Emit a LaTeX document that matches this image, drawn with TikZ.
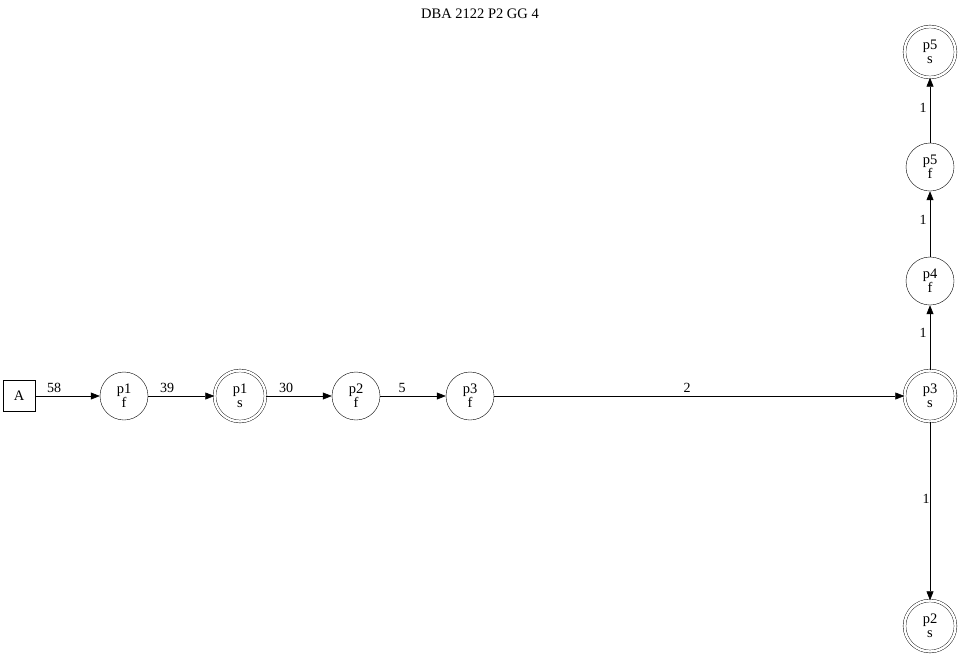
\documentclass[tikz,border=0pt]{standalone}
\usepackage{fontspec}
\setmainfont{Liberation Serif}
\usetikzlibrary{arrows.meta}
\begin{document}
\begin{tikzpicture}[x=1pt,y=-1pt,
  every node/.style={font=\fontsize{14.5}{14}\selectfont},
  st/.style={circle,draw,minimum size=48pt,inner sep=0pt,align=center},
  acc/.style={circle,draw,double,double distance=2.4pt,minimum size=51pt,inner sep=0pt,align=center},
  bx/.style={rectangle,draw,minimum width=32pt,minimum height=31pt,inner sep=0pt},
  ed/.style={draw,-{Triangle[length=9pt,width=7pt]},line width=0.6pt},
  lb/.style={font=\fontsize{14}{14}\selectfont,inner sep=1pt}]
\useasboundingbox (0,0) rectangle (960,659);
\node at (480,14) {DBA 2122 P2 GG 4};
\node[bx] (A) at (19,396) {A};
\node[st] (p1f) at (124,396) {p1\\f};
\node[acc] (p1s) at (240,396) {p1\\s};
\node[st] (p2f) at (356,396) {p2\\f};
\node[st] (p3f) at (470,396) {p3\\f};
\node[acc] (p3s) at (930,396) {p3\\s};
\node[st] (p4f) at (930,281) {p4\\f};
\node[st] (p5f) at (930,167) {p5\\f};
\node[acc] (p5s) at (930,52) {p5\\s};
\node[acc] (p2s) at (930,626) {p2\\s};
\draw[ed] (A) -- (p1f);
\draw[ed] (p1f) -- (p1s);
\draw[ed] (p1s) -- (p2f);
\draw[ed] (p2f) -- (p3f);
\draw[ed] (p3f) -- (p3s);
\draw[ed] (p3s) -- (p4f);
\draw[ed] (p4f) -- (p5f);
\draw[ed] (p5f) -- (p5s);
\draw[ed] (p3s) -- (p2s);
\node[lb] (l58) at (54,388) {58};
\node[lb] (l39) at (167,388) {39};
\node[lb] (l30) at (286,388) {30};
\node[lb] (l5) at (402,388) {5};
\node[lb] (l2) at (687,388) {2};
\node[lb] (l1a) at (923,333) {1};
\node[lb] (l1b) at (923,220) {1};
\node[lb] (l1c) at (923,108) {1};
\node[lb] (l1d) at (926,499) {1};
\end{tikzpicture}
\end{document}
